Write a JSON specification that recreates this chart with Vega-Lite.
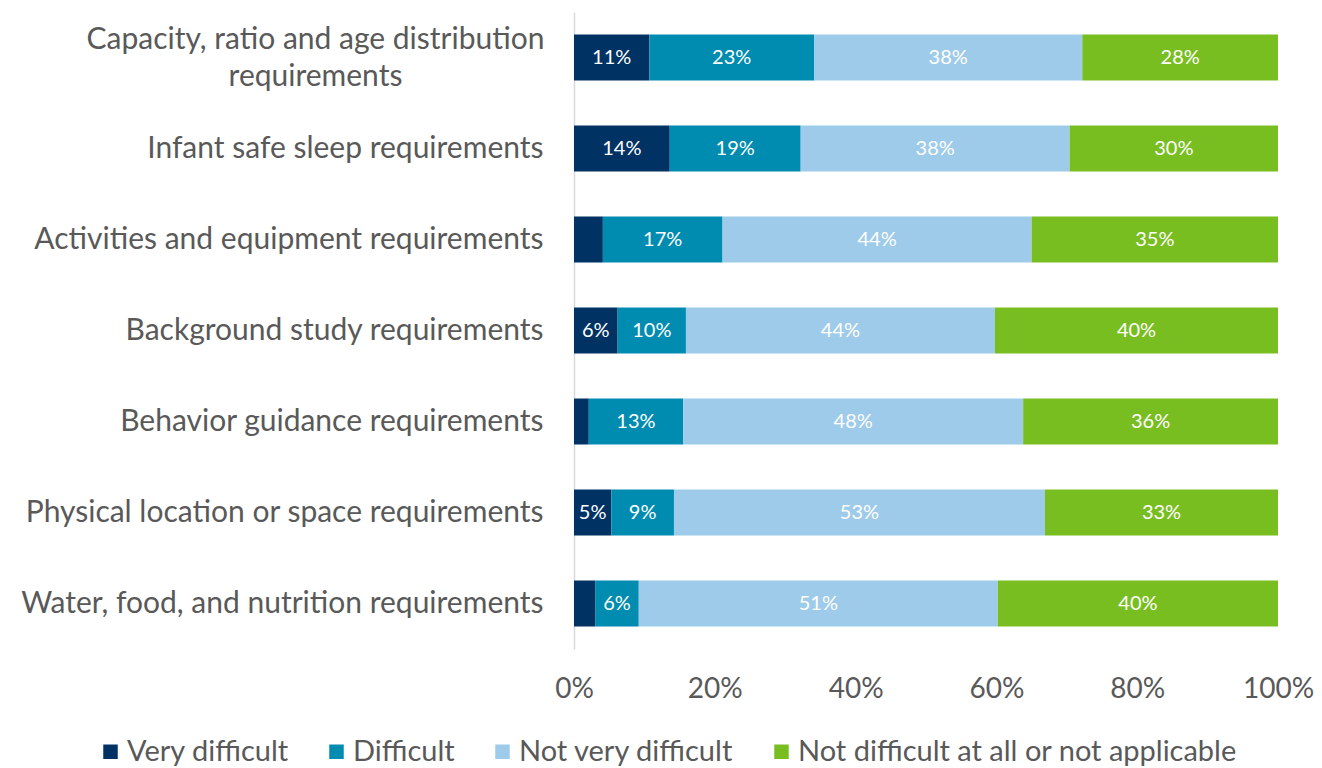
{
  "$schema": "https://vega.github.io/schema/vega-lite/v6.json",
  "autosize": {"type": "none"},
  "width": 704,
  "height": 637,
  "padding": {"left": 574, "top": 12, "right": 44, "bottom": 119},
  "background": "white",
  "config": {"font": "Lato", "view": {"stroke": null}},
  "data": {"values": [
    {"cat": "Capacity, ratio and age distribution requirements", "level": "Very difficult", "k": 1, "value": 0.107},
    {"cat": "Capacity, ratio and age distribution requirements", "level": "Difficult", "k": 2, "value": 0.234},
    {"cat": "Capacity, ratio and age distribution requirements", "level": "Not very difficult", "k": 3, "value": 0.381},
    {"cat": "Capacity, ratio and age distribution requirements", "level": "Not difficult at all or not applicable", "k": 4, "value": 0.278},
    {"cat": "Infant safe sleep requirements", "level": "Very difficult", "k": 1, "value": 0.136},
    {"cat": "Infant safe sleep requirements", "level": "Difficult", "k": 2, "value": 0.186},
    {"cat": "Infant safe sleep requirements", "level": "Not very difficult", "k": 3, "value": 0.382},
    {"cat": "Infant safe sleep requirements", "level": "Not difficult at all or not applicable", "k": 4, "value": 0.296},
    {"cat": "Activities and equipment requirements", "level": "Very difficult", "k": 1, "value": 0.041},
    {"cat": "Activities and equipment requirements", "level": "Difficult", "k": 2, "value": 0.170},
    {"cat": "Activities and equipment requirements", "level": "Not very difficult", "k": 3, "value": 0.439},
    {"cat": "Activities and equipment requirements", "level": "Not difficult at all or not applicable", "k": 4, "value": 0.350},
    {"cat": "Background study requirements", "level": "Very difficult", "k": 1, "value": 0.062},
    {"cat": "Background study requirements", "level": "Difficult", "k": 2, "value": 0.097},
    {"cat": "Background study requirements", "level": "Not very difficult", "k": 3, "value": 0.439},
    {"cat": "Background study requirements", "level": "Not difficult at all or not applicable", "k": 4, "value": 0.402},
    {"cat": "Behavior guidance requirements", "level": "Very difficult", "k": 1, "value": 0.021},
    {"cat": "Behavior guidance requirements", "level": "Difficult", "k": 2, "value": 0.134},
    {"cat": "Behavior guidance requirements", "level": "Not very difficult", "k": 3, "value": 0.483},
    {"cat": "Behavior guidance requirements", "level": "Not difficult at all or not applicable", "k": 4, "value": 0.362},
    {"cat": "Physical location or space requirements", "level": "Very difficult", "k": 1, "value": 0.053},
    {"cat": "Physical location or space requirements", "level": "Difficult", "k": 2, "value": 0.089},
    {"cat": "Physical location or space requirements", "level": "Not very difficult", "k": 3, "value": 0.527},
    {"cat": "Physical location or space requirements", "level": "Not difficult at all or not applicable", "k": 4, "value": 0.331},
    {"cat": "Water, food, and nutrition requirements", "level": "Very difficult", "k": 1, "value": 0.030},
    {"cat": "Water, food, and nutrition requirements", "level": "Difficult", "k": 2, "value": 0.062},
    {"cat": "Water, food, and nutrition requirements", "level": "Not very difficult", "k": 3, "value": 0.510},
    {"cat": "Water, food, and nutrition requirements", "level": "Not difficult at all or not applicable", "k": 4, "value": 0.398}
  ]},
  "encoding": {
    "y": {
      "field": "cat", "type": "nominal", "sort": null, "title": null,
      "scale": {"paddingInner": 0.495, "paddingOuter": 0.2475},
      "axis": {
        "labelExpr": "datum.label == 'Capacity, ratio and age distribution requirements' ? ['Capacity, ratio and age distribution', 'requirements'] : datum.label",
        "labelFontSize": 30, "labelColor": "#595959",
        "labelPadding": {"condition": {"test": "datum.value == 'Capacity, ratio and age distribution requirements'", "value": 259}, "value": 31},
        "labelAlign": {"condition": {"test": "datum.value == 'Capacity, ratio and age distribution requirements'", "value": "center"}, "value": "right"},
        "labelOffset": {"condition": {"test": "datum.value == 'Capacity, ratio and age distribution requirements'", "value": -18}, "value": 0},
        "labelLimit": 700, "labelLineHeight": 37,
        "ticks": false, "domainColor": "#d9d9d9", "domainWidth": 1.5
      }
    }
  },
  "layer": [
    {
      "mark": {"type": "bar", "size": 46},
      "encoding": {
        "x": {
          "field": "value", "type": "quantitative", "stack": "zero", "title": null,
          "scale": {"domain": [0, 1], "nice": false},
          "axis": {"format": ".0%", "values": [0, 0.2, 0.4, 0.6, 0.8, 1], "grid": false, "domain": false, "ticks": false, "labelFontSize": 28, "labelColor": "#595959", "labelPadding": 26, "labelFlush": false}
        },
        "order": {"field": "k", "type": "quantitative"},
        "color": {
          "field": "level", "type": "nominal", "title": null,
          "scale": {
            "domain": ["Very difficult", "Difficult", "Not very difficult", "Not difficult at all or not applicable"],
            "range": ["#003263", "#008cb0", "#9ecbe9", "#78be20"]
          },
          "legend": {
            "orient": "none", "legendX": -478, "legendY": 725, "direction": "horizontal", "columns": 4,
            "symbolType": "square", "symbolSize": 210, "symbolStrokeWidth": 0, "symbolOpacity": 1,
            "labelFontSize": 29, "labelColor": "#595959", "columnPadding": 33, "labelOffset": 2, "labelLimit": 700
          }
        }
      }
    },
    {
      "transform": [
        {"stack": "value", "groupby": ["cat"], "sort": [{"field": "k", "order": "ascending"}], "as": ["v0", "v1"]},
        {"filter": "datum.value >= 0.045"},
        {"calculate": "(datum.v0 + datum.v1) / 2", "as": "mid"}
      ],
      "mark": {"type": "text", "color": "white", "fontSize": 20, "align": "center", "baseline": "middle"},
      "encoding": {
        "x": {"field": "mid", "type": "quantitative"},
        "text": {"field": "value", "type": "quantitative", "format": ".0%"}
      }
    }
  ]
}
